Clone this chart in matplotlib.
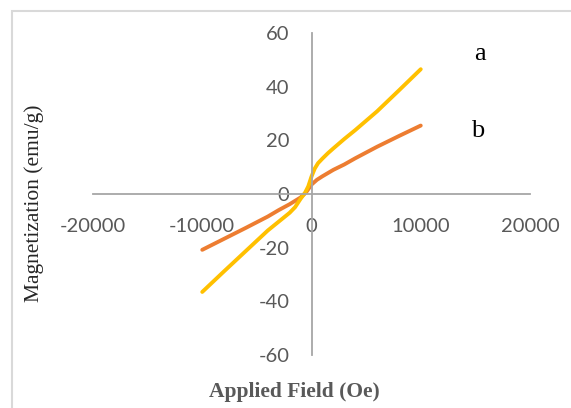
import matplotlib
matplotlib.use("Agg")
import matplotlib.pyplot as plt
from matplotlib.patches import Rectangle

plt.rcParams["axes.unicode_minus"] = False

# M-H curves, sample a and sample b
field_a = [-10000, -8000, -6000, -4000, -2000, -1500, -1000, -600, -300, 0,
           300, 600, 1000, 1500, 2000, 3000, 4000, 6000, 8000, 10000]
mag_a = [-36.5, -28.8, -21.2, -13.6, -7.0, -4.9, -1.8, 0.4, 2.8, 6.5,
         9.5, 11.5, 13.2, 15.2, 17.0, 20.5, 23.8, 30.8, 38.6, 46.5]

field_b = [-10000, -8000, -6000, -4000, -3000, -2000, -1000, -500, 0, 500,
           1000, 2000, 3000, 4000, 6000, 8000, 10000]
mag_b = [-20.8, -16.7, -12.6, -8.4, -6.0, -3.8, -1.3, 0.6, 3.5, 5.3,
         6.6, 9.0, 11.0, 13.3, 17.6, 21.6, 25.5]

x_ticks = [-20000, -10000, 0, 10000, 20000]
y_ticks = [-60, -40, -20, 0, 20, 40, 60]

W, H = 571, 408
fig = plt.figure(figsize=(W / 100, H / 100), dpi=100)
ax = fig.add_axes([93 / W, 1 - 355 / H, 437 / W, 322 / H])

ax.plot(field_b, mag_b, color="#ED7D31", lw=2.8, solid_capstyle="round")
ax.plot(field_a, mag_a, color="#FFC000", lw=2.8, solid_capstyle="round")

ax.set_xlim(-20000, 20000)
ax.set_ylim(-60, 60)

# axes cross at the origin
for s in ("top", "right"):
    ax.spines[s].set_visible(False)
ax.spines["left"].set_position(("data", 0))
ax.spines["bottom"].set_position(("data", 0))
for s in ("left", "bottom"):
    ax.spines[s].set_color("#A6A6A6")
    ax.spines[s].set_linewidth(1.3)

ax.set_xticks(x_ticks)
ax.set_yticks(y_ticks)
ax.tick_params(length=0, labelsize=14.5, labelcolor="#595959")
ax.tick_params(axis="x", pad=17)
ax.tick_params(axis="y", pad=16)
for lab in ax.get_xticklabels() + ax.get_yticklabels():
    lab.set_family("Lato")

ax.text(0.886, 0.935, "a", transform=ax.transAxes, fontsize=19,
        family="Liberation Serif", ha="center", va="center")
ax.text(0.880, 0.696, "b", transform=ax.transAxes, fontsize=19,
        family="Liberation Serif", ha="center", va="center")

fig.text(34 / W, 1 - 203 / H, "Magnetization (emu/g)", rotation=90,
         fontsize=15.5, family="Liberation Serif", color="#262626",
         ha="center", va="center")
fig.text(294 / W, 1 - 392 / H, "Applied Field (Oe)", fontsize=15.5,
         family="Liberation Serif", weight="bold", color="#595959",
         ha="center", va="center")

# chart frame
fig.patches.append(Rectangle((12 / W, -0.1), 2, 1.1 - 11 / H,
                             transform=fig.transFigure, fill=False,
                             edgecolor="#D9D9D9", lw=1.5))

fig.savefig("out.png", dpi=100)
